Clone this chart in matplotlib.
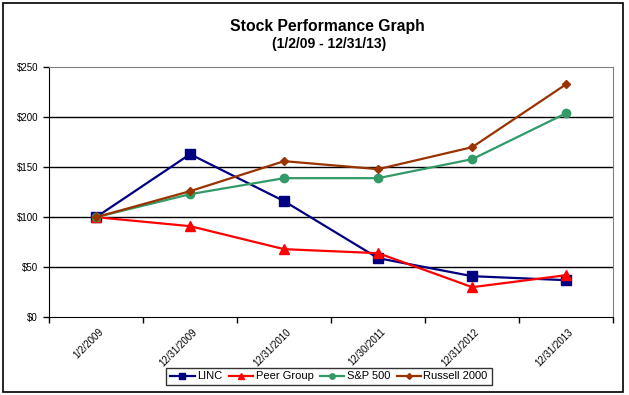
import numpy as np
import matplotlib.pyplot as plt
from matplotlib.patches import Rectangle
from matplotlib.transforms import ScaledTranslation

plt.rcParams['font.family'] = ['Liberation Sans', 'DejaVu Sans']

# ---- data ----
dates = ['1/2/2009', '12/31/2009', '12/31/2010', '12/30/2011', '12/31/2012', '12/31/2013']
linc = [100, 163, 116, 59, 41, 37]
peer_group = [100, 91, 68, 64, 30, 42]
sp500 = [100, 123, 139, 139, 158, 204]
russell2000 = [100, 126, 156, 148, 170, 233]
y_ticks = [0, 50, 100, 150, 200, 250]

fig = plt.figure(figsize=(6.29, 3.95), dpi=100)
ax = fig.add_axes([0.078, 0.197, 0.897, 0.633])

x = np.arange(len(dates))
ax.plot(x, linc, color='#000080', marker='s', markersize=6.5, linewidth=1.6, label='LINC')
ax.plot(x, peer_group, color='#FF0000', marker='^', markersize=7, linewidth=1.6, label='Peer Group')
ax.plot(x, sp500, color='#339966', marker='o', markersize=6, linewidth=1.6, label='S&P 500')
ax.plot(x, russell2000, color='#993300', marker='D', markersize=4.5, linewidth=1.6, label='Russell 2000')

ax.set_xlim(-0.5, len(dates) - 0.5)
ax.set_ylim(0, 250)

# gridlines
for v in y_ticks[1:-1]:
    ax.axhline(v, color='black', linewidth=1, zorder=0)

ax.set_yticks(y_ticks)
ax.set_yticklabels([f'${v}' for v in y_ticks], fontsize=7)
ax.tick_params(axis='y', direction='out', length=4, width=1, pad=4)

# category labels in the middle, tick marks at the boundaries
ax.set_xticks(x)
ax.set_xticklabels(dates, rotation=45, fontsize=7, ha='right', va='top',
                   rotation_mode='anchor')
ax.tick_params(axis='x', which='major', length=0, pad=7)
shift = ScaledTranslation(2 / 100, 0, fig.dpi_scale_trans)
for lbl in ax.get_xticklabels():
    lbl.set_transform(lbl.get_transform() + shift)
ax.set_xticks(np.arange(-0.5, len(dates)), minor=True)
ax.tick_params(axis='x', which='minor', direction='out', length=4, width=1)

ax.spines['left'].set_color('black')
ax.spines['bottom'].set_color('black')
ax.spines['top'].set_color('#808080')
ax.spines['right'].set_color('#808080')

fig.text(0.521, 0.932, 'Stock Performance Graph', ha='center', va='center',
         fontsize=11.3, fontweight='bold')
fig.text(0.524, 0.889, '(1/2/09 - 12/31/13)', ha='center', va='center',
         fontsize=10, fontweight='bold')

leg = fig.legend(loc='center', bbox_to_anchor=(0.523, 0.047), ncol=4, fontsize=8,
                 frameon=True, fancybox=False, edgecolor='black', handlelength=2.2,
                 handletextpad=0.2, columnspacing=0.6, borderpad=0.35, markerscale=0.65)
leg.get_frame().set_linewidth(1)

# outer frame of the chart
fig.patches.append(Rectangle((0.004, 0.008), 0.986, 0.984, transform=fig.transFigure,
                             fill=False, edgecolor='black', linewidth=1.2))

fig.savefig('out.png', dpi=100)
